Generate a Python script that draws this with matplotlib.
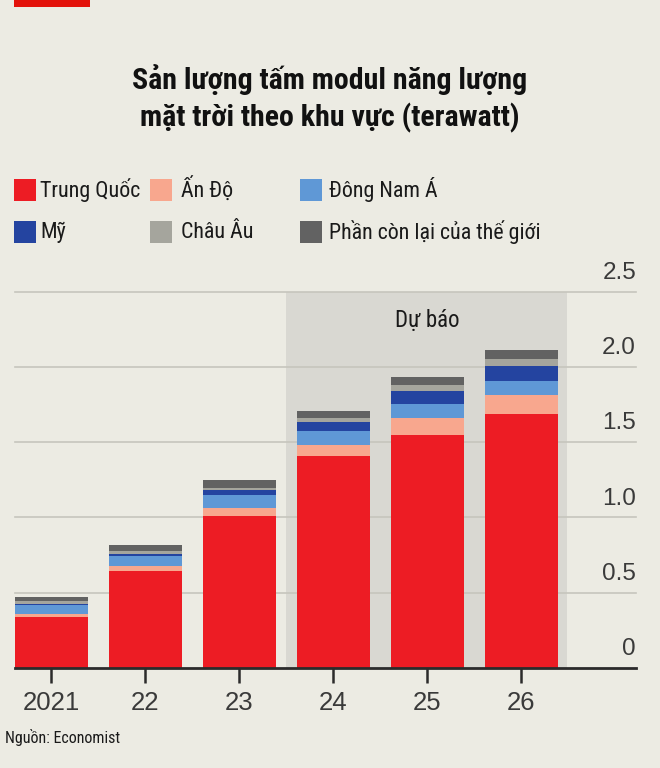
"""
Solar module output by region, stacked bars (Economist style chart, Vietnamese labels)
"""
import matplotlib
matplotlib.use("Agg")
import matplotlib.pyplot as plt
from matplotlib import font_manager
from matplotlib.patches import Rectangle

W, H = 660, 768

years = ["2021", "22", "23", "24", "25", "26"]
china = [0.335, 0.64, 1.01, 1.405, 1.55, 1.69]
india = [0.02, 0.033, 0.055, 0.078, 0.11, 0.12]
se_asia = [0.062, 0.07, 0.085, 0.088, 0.095, 0.095]
usa = [0.005, 0.01, 0.03, 0.06, 0.082, 0.10]
europe = [0.02, 0.025, 0.015, 0.03, 0.045, 0.05]
rest = [0.03, 0.038, 0.055, 0.044, 0.051, 0.057]

series_names = ["Trung Quốc", "Ấn Độ", "Đông Nam Á", "Mỹ", "Châu Âu",
                "Phần còn lại của thế giới"]
series_colors = ["#ed1c24", "#f8a78e", "#5f98d6", "#2444a0", "#a5a59d", "#626262"]

y_ticks = [0, 0.5, 1.0, 1.5, 2.0, 2.5]
y_tick_labels = ["0", "0.5", "1.0", "1.5", "2.0", "2.5"]

BG = "#ecebe3"
BAND = "#d9d8d2"


def pick_font(*candidates):
    names = {f.name for f in font_manager.fontManager.ttflist}
    for c in candidates:
        if c in names:
            return c
    return "DejaVu Sans"


COND = pick_font("Roboto Condensed", "Liberation Sans Narrow", "DejaVu Sans Condensed",
                 "Open Sans Condensed", "Roboto")
NUM = pick_font("Liberation Sans", "Roboto")


def px(x, y):
    # pixel coords (from top-left) -> figure fraction
    return x / W, 1 - y / H


def main():
    fig = plt.figure(figsize=(W / 100, H / 100), dpi=100, facecolor=BG)
    x0, y0 = px(15, 667.7)
    x1, y1 = px(636, 291.7)
    ax = fig.add_axes([x0, y0, x1 - x0, y1 - y0], facecolor=BG)

    xs = list(range(len(years)))
    ax.axvspan(2.5, 5.49, ymin=0, ymax=1, color=BAND, lw=0, zorder=0)

    for v in y_ticks[1:]:
        ax.axhline(v, color="#c6c5bd", lw=1.2, zorder=1, clip_on=False)

    bottoms = [0.0] * len(years)
    for vals, color in zip([china, india, se_asia, usa, europe, rest], series_colors):
        ax.bar(xs, vals, width=0.775, bottom=bottoms, color=color, lw=0, zorder=2)
        bottoms = [b + v for b, v in zip(bottoms, vals)]

    ax.set_xlim(-0.388, 6.22)
    ax.set_ylim(0, 2.5)
    for s in ["top", "right", "left"]:
        ax.spines[s].set_visible(False)
    ax.spines["bottom"].set_color("#2b2b2b")
    ax.spines["bottom"].set_linewidth(2)
    ax.spines["bottom"].set_zorder(3)

    ax.set_yticks([])
    ax.set_xticks(xs)
    ax.set_xticklabels(years, fontfamily=NUM, fontsize=18.5, color="#3a3a3a")
    ax.tick_params(axis="x", length=11, width=1.8, color="#2b2b2b", pad=6)

    for v, lab in zip(y_ticks, y_tick_labels):
        ax.annotate(lab, xy=(1.0, v), xycoords=("axes fraction", "data"),
                    xytext=(0, 5.5), textcoords="offset points",
                    ha="right", va="bottom", fontfamily=NUM, fontsize=17.5,
                    color="#3a3a3a", annotation_clip=False)

    ax.text(4.0, 2.31, "Dự báo", ha="center", va="center", fontfamily=[COND, "DejaVu Sans"],
            fontsize=16.5, color="#1a1a1a")

    # title
    fig.text(*px(330, 80), "Sản lượng tấm modul năng lượng", ha="center", va="center",
             fontfamily=[COND, "DejaVu Sans"], fontweight="bold", fontsize=21.5, color="#111111")
    fig.text(*px(330, 118), "mặt trời theo khu vực (terawatt)", ha="center", va="center",
             fontfamily=[COND, "DejaVu Sans"], fontweight="bold", fontsize=21.5, color="#111111")

    # red tag top left
    fig.patches.append(Rectangle(px(14, 7), 76 / W, 7 / H, transform=fig.transFigure,
                                 color="#e3120b", lw=0))

    # legend
    legend_pos = [(14, 190), (150, 190), (300, 190), (14, 232), (150, 232), (300, 232)]
    text_x = [40, 181, 329, 40, 181, 329]
    for (lx, ly), tx, name, color in zip(legend_pos, text_x, series_names, series_colors):
        fig.patches.append(Rectangle(px(lx, ly + 11), 22 / W, 22 / H, transform=fig.transFigure,
                                     color=color, lw=0))
        fig.text(*px(tx, ly), name, ha="left", va="center", fontfamily=[COND, "DejaVu Sans"],
                 fontsize=15.8, color="#1a1a1a")

    fig.text(*px(5, 738), "Nguồn: Economist", ha="left", va="center",
             fontfamily=[COND, "DejaVu Sans"], fontsize=11.5, color="#1a1a1a")

    fig.savefig("out.png", dpi=100, facecolor=BG)


if __name__ == "__main__":
    main()
